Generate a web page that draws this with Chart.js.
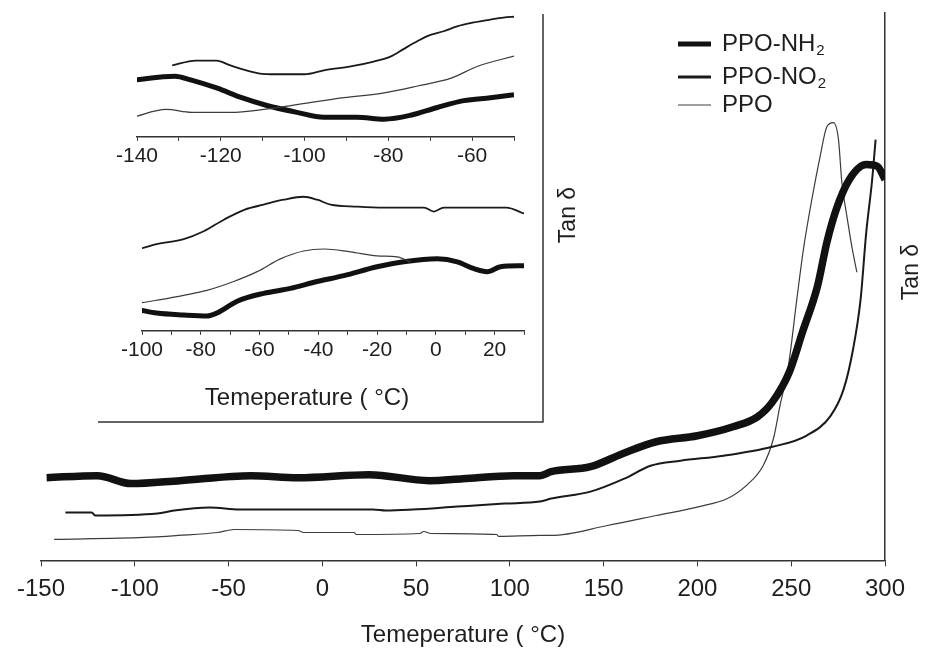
<!DOCTYPE html>
<html>
<head>
<meta charset="utf-8">
<script src="https://cdn.jsdelivr.net/npm/chart.js@4.4.1/dist/chart.umd.min.js"></script>
<style>
body { margin: 0; background: #fff; }
#wrap { position: relative; width: 928px; height: 650px; }
#wrap canvas { position: absolute; left: 0; }
</style>
</head>
<body>
<div id="wrap">
  <canvas id="mainChart" width="928" height="650" style="top:0"></canvas>
  <canvas id="insetTop" width="560" height="172" style="top:0"></canvas>
  <canvas id="insetBottom" width="560" height="186" style="top:180px"></canvas>
</div>
<script>
// main plot: temperature (°C) vs tan delta (arbitrary units)
const nh2Temp = [-147, -120, -102, -76, -38, -13, 25, 57, 75, 102, 116, 122, 143, 160, 178, 200, 219, 232, 240, 249, 256, 264, 269, 274, 281, 290, 296, 300];
const nh2Tan  = [0.083, 0.085, 0.077, 0.080, 0.085, 0.083, 0.086, 0.080, 0.082, 0.085, 0.085, 0.089, 0.094, 0.107, 0.119, 0.125, 0.134, 0.144, 0.159, 0.189, 0.229, 0.275, 0.319, 0.352, 0.382, 0.397, 0.395, 0.382];

const no2Temp = [-137, -123, -121, -88, -79, -60, -44, 27, 34, 48, 72, 97, 116, 122, 143, 161, 175, 191, 214, 240, 258, 271, 278, 283, 287, 290, 293, 295];
const no2Tan  = [0.048, 0.048, 0.045, 0.047, 0.050, 0.053, 0.051, 0.051, 0.050, 0.051, 0.054, 0.057, 0.059, 0.062, 0.069, 0.082, 0.095, 0.100, 0.105, 0.114, 0.125, 0.145, 0.172, 0.212, 0.262, 0.329, 0.379, 0.422];

const ppoTemp = [-143, -95, -77, -56, -47, -13, -10, 17, 18, 52, 54, 58, 93, 94, 116, 122, 152, 178, 201, 216, 226, 235, 240.5, 244, 248.5, 253, 256.5, 261, 265.4, 269, 272.5, 275.2, 277, 279.7, 282.3, 285];
const ppoTan  = [0.021, 0.023, 0.025, 0.028, 0.031, 0.030, 0.028, 0.028, 0.026, 0.027, 0.029, 0.027, 0.026, 0.024, 0.025, 0.025, 0.035, 0.045, 0.054, 0.062, 0.075, 0.095, 0.122, 0.155, 0.195, 0.262, 0.312, 0.362, 0.405, 0.435, 0.439, 0.422, 0.379, 0.345, 0.315, 0.289];

// inset, upper panel (-140 .. -50 °C)
const topNo2Temp = [-131.6, -126, -121, -117.7, -111, -106.6, -100, -95.4, -89, -83.5, -79.5, -76.3, -73, -70.7, -66.8, -63.6, -59.6, -55.6, -52.5, -49.6];
const topNo2Tan  = [0.073, 0.078, 0.078, 0.073, 0.065, 0.064, 0.064, 0.068, 0.072, 0.077, 0.082, 0.090, 0.098, 0.103, 0.108, 0.113, 0.117, 0.120, 0.122, 0.123];
const topPpoTemp = [-141, -133, -127, -117.7, -109.7, -101.8, -90.6, -81, -73, -65, -58.8, -49.6];
const topPpoTan  = [0.020, 0.028, 0.025, 0.025, 0.028, 0.033, 0.040, 0.045, 0.052, 0.060, 0.072, 0.083];
const topNh2Temp = [-140.8, -131, -127, -121, -115, -109, -101.8, -95.4, -87.5, -81, -74.7, -68.3, -62, -55.6, -50];
const topNh2Tan  = [0.058, 0.062, 0.058, 0.050, 0.040, 0.032, 0.025, 0.020, 0.020, 0.018, 0.022, 0.030, 0.037, 0.040, 0.043];

// inset, lower panel (-100 .. 30 °C)
const botNo2Temp = [-101, -95, -85.8, -79, -72, -65, -58.6, -51.8, -45, -40.4, -35.8, -26.8, -17.7, -4, -0.7, 2.7, 12.9, 24, 30];
const botNo2Tan  = [0.083, 0.088, 0.093, 0.101, 0.113, 0.123, 0.128, 0.133, 0.136, 0.133, 0.128, 0.126, 0.125, 0.125, 0.121, 0.125, 0.125, 0.125, 0.119];
const botPpoTemp = [-101, -95, -85.8, -77.9, -68.8, -60.8, -52.9, -45, -38, -29, -20, -13.2, -8.6];
const botPpoTan  = [0.028, 0.031, 0.036, 0.041, 0.050, 0.060, 0.073, 0.081, 0.083, 0.080, 0.076, 0.075, 0.070];
const botNh2Temp = [-100.6, -95, -85.8, -77.9, -74.5, -67.6, -58.6, -49.5, -40.4, -31.3, -20, -10.9, 0.5, 7.3, 13, 17.5, 22, 30];
const botNh2Tan  = [0.021, 0.018, 0.016, 0.015, 0.018, 0.030, 0.038, 0.043, 0.050, 0.056, 0.065, 0.070, 0.073, 0.070, 0.063, 0.060, 0.065, 0.066];

const legendBase = ['PPO-NH', 'PPO-NO', 'PPO'];
const legendSub  = ['2', '2', ''];
const axisTitle = 'Temeperature ( °C)';
const yTitle = 'Tan δ';

const FONT = '"Liberation Sans", Arial, sans-serif';
const INK = '#1e1e1e';

function pts(xs, ys) {
    return xs.map((x, i) => ({ x: x, y: ys[i] }));
}

function line(label, xs, ys, width, color) {
    return {
        label: label,
        data: pts(xs, ys),
        borderColor: color,
        borderWidth: width,
        pointRadius: 0,
        fill: false,
        cubicInterpolationMode: 'monotone'
    };
}

function drawUp(ctx, text, x, y) {
    ctx.save();
    ctx.translate(x, y);
    ctx.rotate(-Math.PI / 2);
    ctx.textAlign = 'center';
    ctx.textBaseline = 'middle';
    ctx.fillText(text, 0, 0);
    ctx.restore();
}

// legend, inset frame and the extra labels
const decor = {
    id: 'decor',
    afterDraw(chart) {
        const ctx = chart.ctx;
        const sets = chart.data.datasets;
        const rows = [44, 77, 105];
        const widths = [5, 3, 1];
        ctx.save();
        ctx.fillStyle = INK;
        rows.forEach((y, i) => {
            ctx.strokeStyle = sets[i].borderColor;
            ctx.lineWidth = widths[i];
            ctx.beginPath();
            ctx.moveTo(678, y);
            ctx.lineTo(711, y);
            ctx.stroke();
            ctx.font = '24px ' + FONT;
            ctx.textAlign = 'left';
            ctx.textBaseline = 'middle';
            ctx.fillText(legendBase[i], 722, y);
            if (legendSub[i]) {
                const w = ctx.measureText(legendBase[i]).width;
                ctx.font = '15px ' + FONT;
                ctx.fillText(legendSub[i], 722 + w + 1, y + 7);
            }
        });

        // inset frame
        ctx.strokeStyle = '#333';
        ctx.lineWidth = 1.5;
        ctx.beginPath();
        ctx.moveTo(543, 14);
        ctx.lineTo(543, 422);
        ctx.lineTo(98, 422);
        ctx.stroke();

        ctx.font = '24px ' + FONT;
        ctx.textAlign = 'center';
        ctx.textBaseline = 'middle';
        ctx.fillText(axisTitle, 307, 398);
        ctx.font = '23px ' + FONT;
        drawUp(ctx, yTitle, 569, 215);
        drawUp(ctx, yTitle, 912, 272);
        ctx.restore();
    }
};

const mainCtx = document.getElementById('mainChart').getContext('2d');
new Chart(mainCtx, {
    type: 'line',
    data: {
        datasets: [
            line('PPO-NH₂', nh2Temp, nh2Tan, 7.5, '#111'),
            line('PPO-NO₂', no2Temp, no2Tan, 2, '#1a1a1a'),
            line('PPO', ppoTemp, ppoTan, 1.2, '#3c3c3c')
        ]
    },
    options: {
        responsive: false,
        animation: false,
        layout: { padding: { left: 41, right: 35, top: 13, bottom: 0 } },
        plugins: { legend: { display: false }, tooltip: { enabled: false } },
        scales: {
            x: {
                type: 'linear',
                min: -150,
                max: 300,
                ticks: {
                    stepSize: 50,
                    color: INK,
                    padding: 9,
                    font: { family: FONT, size: 24 },
                    callback: v => String(v)
                },
                grid: { drawOnChartArea: false, drawTicks: true, tickLength: 6, color: '#333' },
                border: { color: '#333', width: 1.5 },
                title: {
                    display: true,
                    text: axisTitle,
                    color: INK,
                    font: { family: FONT, size: 24 },
                    padding: { top: 8, bottom: 0 }
                }
            },
            y: {
                position: 'right',
                min: 0,
                max: 0.549,
                ticks: { display: false },
                grid: { display: false },
                border: { color: '#333', width: 1.5 }
            }
        }
    },
    plugins: [decor]
});

function insetChart(id, xmin, xmax, ymax, sets, padLeft, padRight) {
    const ctx = document.getElementById(id).getContext('2d');
    return new Chart(ctx, {
        type: 'line',
        data: { datasets: sets },
        options: {
            responsive: false,
            animation: false,
            layout: { padding: { left: padLeft, right: padRight, top: 0, bottom: 0 } },
            plugins: { legend: { display: false }, tooltip: { enabled: false } },
            scales: {
                x: {
                    type: 'linear',
                    min: xmin,
                    max: xmax,
                    ticks: {
                        stepSize: 10,
                        autoSkip: false,
                        maxRotation: 0,
                        color: INK,
                        padding: 3,
                        font: { family: FONT, size: 21 },
                        callback: v => (v % 20 === 0 ? String(v) : '')
                    },
                    grid: { drawOnChartArea: false, drawTicks: true, tickLength: 4, color: '#333' },
                    border: { color: '#333', width: 1.5 }
                },
                y: { display: false, min: 0, max: ymax }
            }
        }
    });
}

insetChart('insetTop', -140, -50, 0.14, [
    line('PPO-NO₂', topNo2Temp, topNo2Tan, 1.8, '#1a1a1a'),
    line('PPO', topPpoTemp, topPpoTan, 1.2, '#3c3c3c'),
    line('PPO-NH₂', topNh2Temp, topNh2Tan, 5, '#111')
], 137, 46);

insetChart('insetBottom', -100, 30, 0.153, [
    line('PPO-NO₂', botNo2Temp, botNo2Tan, 1.8, '#1a1a1a'),
    line('PPO', botPpoTemp, botPpoTan, 1.2, '#3c3c3c'),
    line('PPO-NH₂', botNh2Temp, botNh2Tan, 5, '#111')
], 142, 36);
</script>
</body>
</html>
